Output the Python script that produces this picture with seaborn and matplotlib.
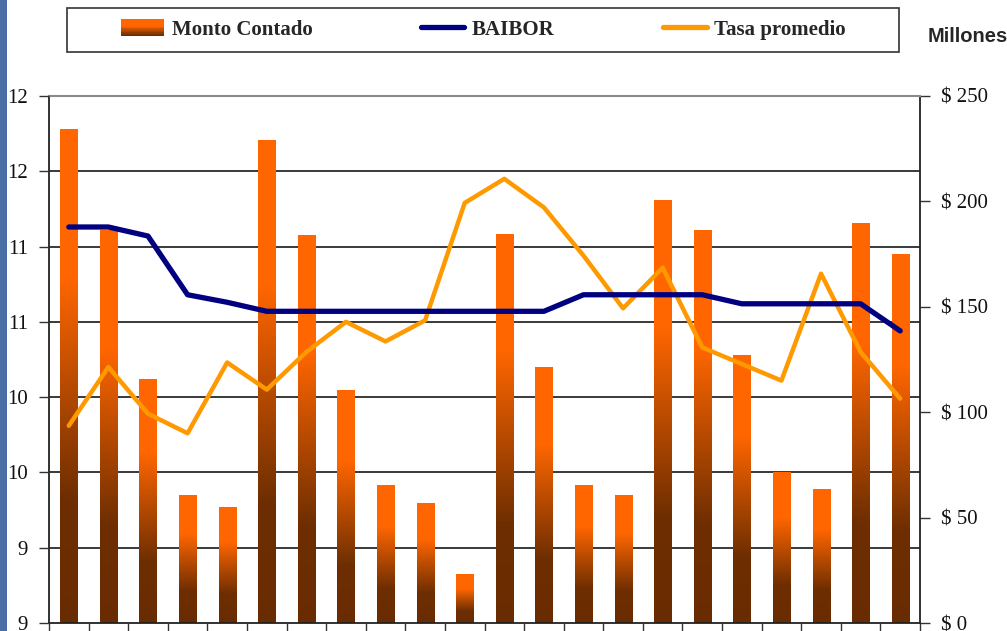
import numpy as np
import pandas as pd
import seaborn as sns
import matplotlib.pyplot as plt
from matplotlib.colors import LinearSegmentedColormap
from matplotlib.patches import Rectangle
from matplotlib.lines import Line2D
from matplotlib.legend_handler import HandlerBase

# data (22 periods)
periodo = list(range(22))
monto = [233.9, 186.0, 115.7, 60.7, 55.0, 228.7, 183.6, 110.1, 65.0, 56.5, 22.8,
         184.5, 121.0, 65.0, 60.7, 200.2, 186.0, 126.7, 71.6, 63.1, 189.3, 175.0]
baibor = [11.53, 11.53, 11.47, 11.08, 11.03, 10.97, 10.97, 10.97, 10.97, 10.97, 10.97,
          10.97, 10.97, 11.08, 11.08, 11.08, 11.08, 11.02, 11.02, 11.02, 11.02, 10.84]
tasa = [10.21, 10.60, 10.29, 10.16, 10.63, 10.45, 10.70, 10.90, 10.77, 10.91, 11.69,
        11.85, 11.66, 11.34, 10.99, 11.26, 10.73, 10.62, 10.51, 11.22, 10.70, 10.39]

left_ticks = [8.9, 9.4, 9.9, 10.4, 10.9, 11.4, 11.9, 12.4]
right_ticks = [0, 50, 100, 150, 200, 250]

df = pd.DataFrame({'periodo': periodo, 'monto': monto, 'baibor': baibor, 'tasa': tasa})

sns.set_theme(style='white')
plt.rcParams['font.family'] = ['Liberation Serif', 'DejaVu Serif']

ORANGE = '#ff6600'
BROWN = '#692c00'
cmap = LinearSegmentedColormap.from_list(
    'monto', [(0, BROWN), (0.25, '#6e2e00'), (0.7, ORANGE), (1, ORANGE)])

fig = plt.figure(figsize=(10.07, 6.31), dpi=100)
ax = fig.add_axes([49 / 1007, 8 / 631, 871 / 1007, 527 / 631])

# bars on the right-hand scale
sns.barplot(data=df, x='periodo', y='monto', color=ORANGE, width=0.43,
            saturation=1, ax=ax, zorder=2)
grad = np.linspace(0, 1, 256).reshape(-1, 1)
for bar in ax.patches:
    x0, y0 = bar.get_x(), bar.get_y()
    w, h = bar.get_width(), bar.get_height()
    ax.imshow(grad, cmap=cmap, aspect='auto', origin='lower',
              extent=[x0, x0 + w, y0, y0 + h], zorder=2, interpolation='bilinear')
    bar.set_visible(False)

ax.set_xlim(-0.5, 21.5)
ax.set_ylim(0, 250)
ax.set_xlabel('')
ax.set_ylabel('')
ax.set_xticks(np.arange(-0.5, 22, 1))
ax.set_xticklabels([])
ax.tick_params(axis='x', bottom=True, length=9, width=1, color='#333333', direction='out')

# horizontal gridlines follow the left-hand scale, behind the bars
lo, hi = left_ticks[0], left_ticks[-1]
for t in left_ticks[1:-1]:
    f = (t - lo) / (hi - lo)
    ax.plot([0, 1], [f, f], transform=ax.transAxes, color='#2a2a2a', lw=1.3, zorder=1)

for side in ['left', 'right', 'bottom']:
    ax.spines[side].set_color('#222222')
    ax.spines[side].set_linewidth(1.3)
ax.spines['top'].set_color('#8a8a8a')
ax.spines['top'].set_linewidth(1.5)

# lines on the left-hand scale
ax2 = ax.twinx()
sns.lineplot(data=df, x='periodo', y='tasa', color='#ff9900', lw=3.2, ax=ax2,
             solid_capstyle='round')
sns.lineplot(data=df, x='periodo', y='baibor', color='#000080', lw=3.8, ax=ax2,
             solid_capstyle='round')
ax2.set_ylim(lo, hi)
ax2.set_xlim(-0.5, 21.5)
ax2.set_ylabel('')
ax2.set_xlabel('')
ax2.set_yticks(left_ticks)
ax2.set_yticklabels([f'{v:.0f}' for v in left_ticks])
ax2.tick_params(axis='y', left=True, right=False, labelleft=True, labelright=False,
                length=7, width=1, color='#333333', pad=8, labelsize=15,
                labelcolor='#111111')
for s in ax2.spines.values():
    s.set_visible(False)

# money scale on the right side
ax.set_yticks(right_ticks)
ax.set_yticklabels([f'$ {v}' for v in right_ticks])
ax.tick_params(axis='y', right=True, left=False, labelright=True, labelleft=False,
               length=7, width=1, color='#333333', pad=8, labelsize=15,
               labelcolor='#111111')


class GradientHandler(HandlerBase):
    def create_artists(self, legend, orig_handle, xdescent, ydescent, width, height,
                       fontsize, trans):
        n = 12
        parts = []
        for i in range(n):
            parts.append(Rectangle((-xdescent, -ydescent + height * i / n), width,
                                   height / n + 0.3, facecolor=cmap(0.2 + 0.8 * i / (n - 1)),
                                   edgecolor='none', transform=trans))
        return parts


bar_handle = Rectangle((0, 0), 1, 1)
handles = [bar_handle,
           Line2D([], [], color='#000080', lw=3.8, solid_capstyle='round'),
           Line2D([], [], color='#ff9900', lw=3.8, solid_capstyle='round')]
labels = ['Monto Contado', 'BAIBOR', 'Tasa promedio']
fig.legend(handles, labels, handler_map={Rectangle: GradientHandler()},
           loc='center', bbox_to_anchor=(483 / 1007, 1 - 30 / 631), ncol=3,
           frameon=False, columnspacing=5.2, handlelength=2.1, handletextpad=0.35,
           handleheight=0.85, prop={'family': 'Liberation Serif', 'weight': 'bold', 'size': 15})
fig.patches.append(Rectangle((67 / 1007, 1 - 52 / 631), 832 / 1007, 44 / 631,
                             transform=fig.transFigure, fill=False,
                             edgecolor='#333333', lw=1.2))

fig.text(928 / 1007, 1 - 37 / 631, 'Millones', ha='left', va='center',
         fontsize=14.5, fontweight='bold', family=['Liberation Sans', 'DejaVu Sans'])

# slide edge on the left
fig.patches.append(Rectangle((0, 0), 7 / 1007, 1, transform=fig.transFigure,
                             facecolor='#4a6fa5', edgecolor='none'))

fig.savefig('out.png', dpi=100)
